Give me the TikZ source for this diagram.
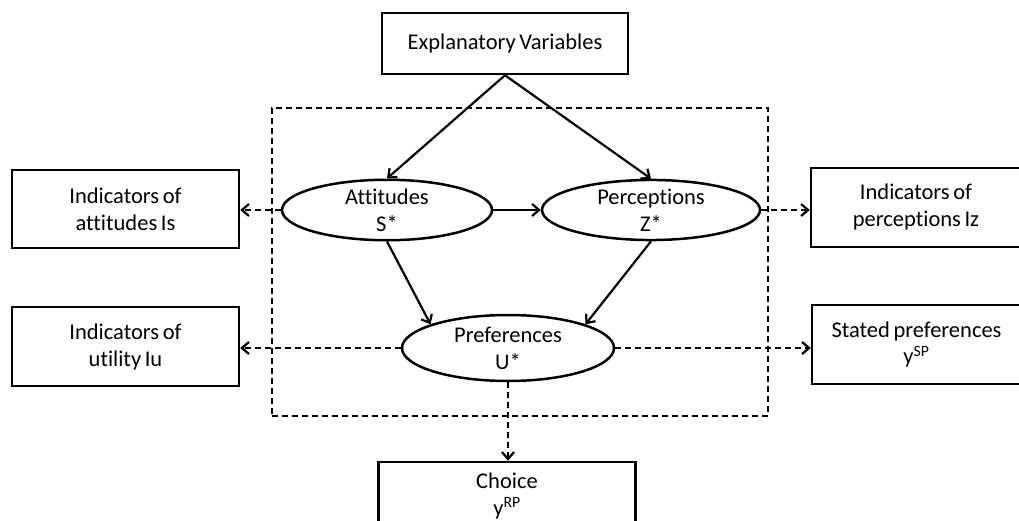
\documentclass[tikz,border=0pt]{standalone}
\usepackage{fontspec}
\setmainfont{Carlito}[Ligatures=NoCommon, WordSpace=0.7]
\usetikzlibrary{shapes.geometric,arrows.meta}
\begin{document}
\begin{tikzpicture}[x=1pt,y=-1pt,
  label font/.style={font=\fontsize{22.5}{27}\selectfont},
  box/.style={draw, line width=2.5pt, align=center, inner sep=0pt, label font},
  latent/.style={ellipse, draw, line width=2.5pt, align=center, inner sep=0pt, label font},
  causal/.style={line width=2.2pt, -{Straight Barb[length=7pt,width=12pt]}},
  measure/.style={causal, dash pattern=on 6pt off 4pt},
  frame/.style={draw, line width=2.4pt, dash pattern=on 6pt off 4pt, inner sep=0pt}]
\useasboundingbox (0,0) rectangle (1019,521);

% dashed frame around the latent part of the model
\node[frame, minimum width=496pt, minimum height=308pt] (core) at (520,262) {};

% observed boxes
\node[box, minimum width=246pt, minimum height=61pt] (expl) at (505,43.5) {Explanatory Variables};
\node[box, minimum width=227pt, minimum height=78pt] (attind) at (125.5,209) {Indicators of\\attitudes Is};
\node[box, minimum width=210pt, minimum height=79pt] (perind) at (916,207.5) {Indicators of\\perceptions Iz};
\node[box, minimum width=227pt, minimum height=79pt] (utilind) at (125.5,346.5) {Indicators of\\utility Iu};
\node[box, minimum width=209pt, minimum height=79pt] (stated) at (916.5,344.5) {Stated preferences\\y\textsuperscript{SP}};
\node[box, minimum width=257pt, minimum height=68pt] (choice) at (507,496) {Choice\\y\textsuperscript{RP}};

% latent variables
\node[latent, minimum width=210pt, minimum height=60pt] (att) at (387,210) {Attitudes\\S*};
\node[latent, minimum width=218pt, minimum height=60pt] (per) at (651,210) {Perceptions\\Z*};
\node[latent, minimum width=212pt, minimum height=66pt] (pref) at (508,348) {Preferences\\U*};

% structural relations
\draw[causal] (expl.south) -- (att.north);
\draw[causal] (expl.south) -- (per.north);
\draw[causal] (att.east) -- (per.west);
\draw[causal] (att.south) -- (pref.163);
\draw[causal] (per.south) -- (pref.17);

% measurement relations
\draw[measure] (att.west) -- (attind.east |- att.west);
\draw[measure] (per.east) -- (perind.west |- per.east);
\draw[measure] (pref.west) -- (utilind.east |- pref.west);
\draw[measure] (pref.east) -- (stated.west |- pref.east);
\draw[measure] (pref.south) -- (pref.south |- choice.north);
\end{tikzpicture}
\end{document}
